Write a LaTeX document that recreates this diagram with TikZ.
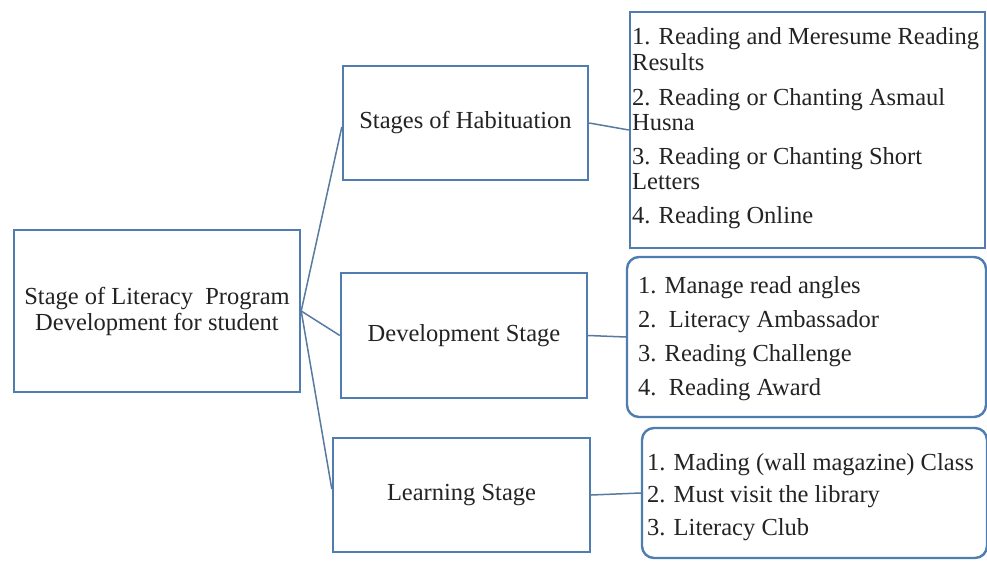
\documentclass[tikz,border=0pt]{standalone}
\usepackage{fontspec}
\setmainfont{Liberation Serif}
\definecolor{boxblue}{RGB}{79,125,176}
\definecolor{lineblue}{RGB}{88,122,160}
\definecolor{txt}{RGB}{35,35,35}
\begin{document}
\begin{tikzpicture}[x=1pt,y=-1pt,
  box/.style={draw=boxblue, line width=2.4pt, rectangle, inner sep=0pt, fill=white},
  rbox/.style={box, rounded corners=12pt},
  conn/.style={draw=lineblue, line width=1.5pt},
  lbl/.style={font=\fontsize{24.5}{26}\selectfont, text=txt, align=center},
  lst/.style={font=\fontsize{24.5}{26}\selectfont, text=txt, anchor=base west, inner sep=0pt}]
\useasboundingbox (0,0) rectangle (987,561);
\fill[white] (0,0) rectangle (987,561);

% stage boxes
\node[box, lbl, minimum width=286pt, minimum height=162pt] (main) at (157,311)
  {Stage of Literacy\ \ Program\\Development for student};
\node[box, lbl, minimum width=245pt, minimum height=114pt] (hab) at (465.5,123) {Stages of Habituation};
\node[box, lbl, minimum width=246pt, minimum height=125pt] (dev) at (464,335.5) {Development Stage};
\node[box, lbl, minimum width=257pt, minimum height=114pt] (learn) at (461.5,495) {Learning Stage};

% list boxes
\node[box, minimum width=355pt, minimum height=236pt] (l1) at (807.5,130) {};
\node[rbox, minimum width=359pt, minimum height=160pt] (l2) at (806.5,337) {};
\node[rbox, minimum width=345pt, minimum height=130pt] (l3) at (814.5,493) {};

% connectors
\draw[conn] (main.east) -- ([yshift=-4pt]hab.west);
\draw[conn] (main.east) -- (dev.west);
\draw[conn] (main.east) -- ([yshift=6pt]learn.west);
\draw[conn] (hab.east) -- (l1.west);
\draw[conn] (dev.east) -- (l2.west);
\draw[conn] (learn.east) -- (l3.west);

% list 1
\node[lst] (a1) at (632,45) {1. Reading and Meresume Reading};
\node[lst] (a1b) at (632,71) {Results};
\node[lst] (a2) at (632,106) {2. Reading or Chanting Asmaul};
\node[lst] (a2b) at (632,131) {Husna};
\node[lst] (a3) at (632,165) {3. Reading or Chanting Short};
\node[lst] (a3b) at (632,190) {Letters};
\node[lst] (a4) at (632,224) {4. Reading Online};

% list 2
\node[lst] (b1) at (638,293) {1. Manage read angles};
\node[lst] (b2) at (638,327) {2.\ \ Literacy Ambassador};
\node[lst] (b3) at (638,361) {3. Reading Challenge};
\node[lst] (b4) at (638,395) {4.\ \ Reading Award};

% list 3
\node[lst] (c1) at (647,470) {1. Mading (wall magazine) Class};
\node[lst] (c2) at (647,502) {2. Must visit the library};
\node[lst] (c3) at (647,535) {3. Literacy Club};
\end{tikzpicture}
\end{document}
